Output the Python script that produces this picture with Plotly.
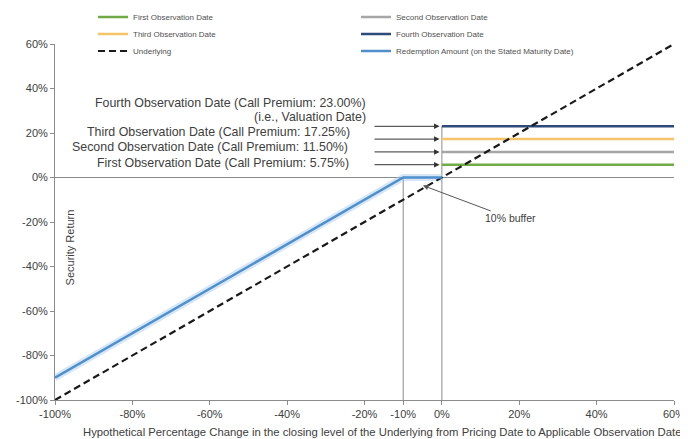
import plotly.graph_objects as go

# ---- data (percent) ----
x_range = [-100, 60]
x_ticks = [-100, -80, -60, -40, -20, -10, 0, 20, 40, 60]
y_ticks = [-100, -80, -60, -40, -20, 0, 20, 40, 60]

obs_names = ["First Observation Date", "Second Observation Date",
             "Third Observation Date", "Fourth Observation Date"]
obs_premiums = [5.75, 11.50, 17.25, 23.00]
obs_colors = ["#6FAA46", "#A6A6A6", "#F5C46A", "#2F4A78"]
obs_legend = ["legend", "legend", "legend2", "legend2"]
obs_start = 0
obs_end = 60

underlying_x = [-100, 60]
underlying_y = [-100, 60]

redemption_x = [-100, -10, 0]
redemption_y = [-90, 0, 0]

buffer_level = -10
zero_x = [-100, 60]
zero_y = [0, 0]

fig = go.Figure()

# reference lines
fig.add_trace(go.Scatter(x=zero_x, y=zero_y, mode="lines",
                         line=dict(color="#8C8C8C", width=1),
                         showlegend=False, hoverinfo="skip"))
fig.add_trace(go.Scatter(x=[buffer_level, buffer_level], y=[-100, 0], mode="lines",
                         line=dict(color="#8C8C8C", width=1),
                         showlegend=False, hoverinfo="skip"))
fig.add_trace(go.Scatter(x=[obs_start, obs_start], y=[-100, max(obs_premiums)], mode="lines",
                         line=dict(color="#8C8C8C", width=1),
                         showlegend=False, hoverinfo="skip"))

# glow under redemption
fig.add_trace(go.Scatter(x=redemption_x, y=redemption_y, mode="lines",
                         line=dict(color="rgba(165,200,238,0.45)", width=7),
                         showlegend=False, hoverinfo="skip"))

for name, prem, col, lg in zip(obs_names, obs_premiums, obs_colors, obs_legend):
    fig.add_trace(go.Scatter(x=[obs_start, obs_end], y=[prem, prem], mode="lines",
                             name=name, legend=lg,
                             line=dict(color=col, width=2.5)))

fig.add_trace(go.Scatter(x=underlying_x, y=underlying_y, mode="lines",
                         name="Underlying", legend="legend3",
                         line=dict(color="#1A1A1A", width=2.2, dash="7px,4px")))
fig.add_trace(go.Scatter(x=redemption_x, y=redemption_y, mode="lines",
                         name="Redemption Amount (on the Stated Maturity Date)",
                         legend="legend3",
                         line=dict(color="#4F8FCC", width=2.5)))

# text annotations
label_font = dict(family="Liberation Sans, Arial, sans-serif", size=12.4, color="#404040")
texts = [
    ("Fourth Observation Date (Call Premium: 23.00%)", -19.2, 33.7),
    ("(i.e., Valuation Date)", -19.2, 27.0),
    ("Third Observation Date (Call Premium: 17.25%)", -23.3, 20.3),
    ("Second Observation Date (Call Premium: 11.50%)", -23.8, 13.9),
    ("First Observation Date (Call Premium: 5.75%)", -23.5, 6.3),
]
annotations = []
for t, xx, yy in texts:
    annotations.append(dict(text=t, x=xx, y=yy, xref="x", yref="y",
                            xanchor="right", yanchor="middle",
                            showarrow=False, font=label_font))

for prem in obs_premiums:
    annotations.append(dict(text="", x=-0.6, y=prem, ax=-17.8, ay=prem,
                            xref="x", yref="y", axref="x", ayref="y",
                            showarrow=True, arrowhead=2, arrowsize=1.1,
                            arrowwidth=1, arrowcolor="#333333"))

annotations.append(dict(text="10% buffer", x=-4.9, y=-3.6, ax=17.8, ay=-18.4,
                        xref="x", yref="y", axref="x", ayref="y",
                        showarrow=True, arrowhead=2, arrowsize=1.1,
                        arrowwidth=1, arrowcolor="#555555",
                        font=dict(family="Liberation Sans, Arial, sans-serif",
                                  size=10.5, color="#404040")))

annotations.append(dict(text="Security Return", x=0.024, y=-31.5,
                        xref="paper", yref="y", textangle=-90,
                        xanchor="center", yanchor="middle", showarrow=False,
                        font=dict(family="Liberation Sans, Arial, sans-serif",
                                  size=11, color="#404040")))

annotations.append(dict(text="Hypothetical Percentage Change in the closing level of the Underlying from Pricing Date to Applicable Observation Date",
                        x=0.528, y=-0.09, xref="paper", yref="paper",
                        xanchor="center", yanchor="middle", showarrow=False,
                        font=dict(family="Liberation Sans, Arial, sans-serif",
                                  size=11.3, color="#404040")))

legend_common = dict(orientation="h", xref="paper", yref="paper",
                     x=0.0614, xanchor="left", yanchor="middle",
                     entrywidth=218, entrywidthmode="pixels",
                     font=dict(size=8, color="#505050"),
                     bgcolor="rgba(0,0,0,0)")

fig.update_layout(
    width=680, height=431,
    margin=dict(l=47, r=14, t=36, b=39, autoexpand=False),
    paper_bgcolor="white", plot_bgcolor="white",
    font=dict(family="Liberation Sans, Arial, sans-serif", color="#404040"),
    annotations=annotations,
    legend=dict(legend_common, y=1.0758),
    legend2=dict(legend_common, y=1.0281),
    legend3=dict(legend_common, y=0.9803),
    xaxis=dict(range=x_range, tickvals=x_ticks,
               ticktext=[f"{v}%" for v in x_ticks], automargin=False,
               showgrid=False, zeroline=False, showline=True,
               linecolor="#8C8C8C", linewidth=1, ticks="outside",
               ticklen=4, tickcolor="#8C8C8C",
               tickfont=dict(size=11, color="#404040"), fixedrange=True),
    yaxis=dict(range=[-100, 60], tickvals=y_ticks,
               ticktext=[f"{v}%" for v in y_ticks], automargin=False,
               showgrid=False, zeroline=False, showline=True,
               linecolor="#8C8C8C", linewidth=1, ticks="outside",
               ticklen=4, tickcolor="#8C8C8C",
               tickfont=dict(size=11, color="#404040"), fixedrange=True),
)

fig.write_html("out.html")
